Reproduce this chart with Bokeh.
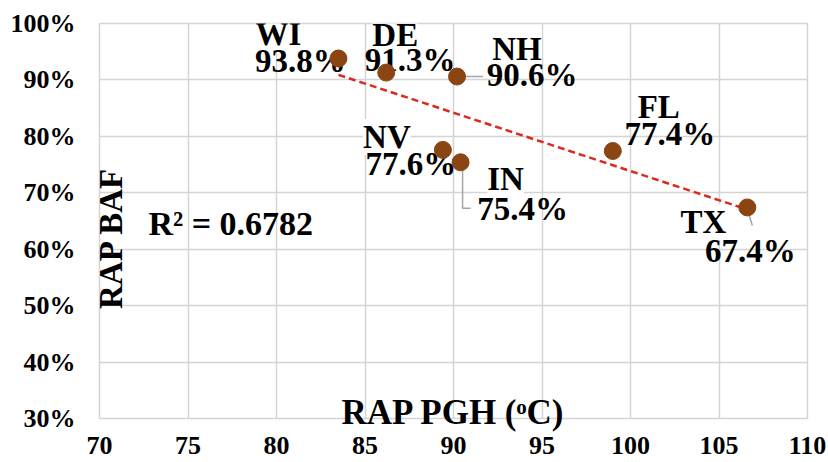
import numpy as np
from bokeh.plotting import figure
from bokeh.models import (ColumnDataSource, LabelSet, Label, Range1d, FixedTicker,
                          PrintfTickFormatter)
from bokeh.embed import file_html
from bokeh.resources import INLINE

# ---------------- data ----------------
states = ["WI", "DE", "NH", "NV", "IN", "FL", "TX"]
rap_pgh = [83.5, 86.2, 90.2, 89.4, 90.4, 99.0, 106.6]     # RAP PGH (oC)
rap_baf = [93.8, 91.3, 90.6, 77.6, 75.4, 77.4, 67.4]      # RAP BAF (%)
x_ticks = [70, 75, 80, 85, 90, 95, 100, 105, 110]
y_ticks = [30, 40, 50, 60, 70, 80, 90, 100]
r2_text = "R² = 0.6782"
x_title = "RAP PGH (ᵒC)"
y_title = "RAP BAF"

# ---------------- layout (pixels) ----------------
W, H = 828, 462
L, R, T, B = 99, 21, 23, 44
FW, FH = W - L - R, H - T - B
X0, X1, Y0, Y1 = 70, 110, 30, 100
SX = FW / (X1 - X0)
SY = FH / (Y1 - Y0)

def dx(px):
    return X0 + (px - L) / SX

def dy(py):
    return Y0 + (T + FH - py) / SY

FONT = "Liberation Serif"
BROWN = "#8B4513"
GRID = "#D4D4D4"

# label offsets (screen px; y positive = up) for name and value lines
name_off = {"WI": (-60, 13), "DE": (9, 27), "NH": (60, 17), "NV": (-56, 2),
            "IN": (45, -28), "FL": (46, 33), "TX": (-44, -26)}
val_off = {"WI": (-38, -14), "DE": (24, 2), "NH": (75, -9), "NV": (-32, -25),
           "IN": (62, -58), "FL": (57, 6), "TX": (3, -55)}
# leader lines (screen px offsets from point; y positive = down)
leaders = {"NH": [(6, 0), (26, 0)],
           "IN": [(2, 8), (2, 46), (10, 46)],
           "TX": [(1, 5), (5, 18)]}

p = figure(width=W, height=H, frame_width=FW, frame_height=FH,
           x_range=Range1d(X0, X1), y_range=Range1d(Y0, Y1),
           min_border_left=L, min_border_right=R, min_border_top=T, min_border_bottom=B,
           toolbar_location=None, output_backend="svg")
p.background_fill_color = "white"
p.border_fill_color = "white"
p.outline_line_color = GRID
p.outline_line_width = 1.5

for ax in (p.xaxis[0], p.yaxis[0]):
    ax.axis_line_color = None
    ax.major_tick_line_color = None
    ax.minor_tick_line_color = None
    ax.major_tick_out = 0
    ax.major_tick_in = 0
    ax.major_label_text_font = FONT
    ax.major_label_text_font_style = "bold"
    ax.major_label_text_font_size = "26px"
    ax.major_label_text_color = "black"
p.xaxis.ticker = FixedTicker(ticks=x_ticks)
p.yaxis.ticker = FixedTicker(ticks=y_ticks)
p.yaxis.formatter = PrintfTickFormatter(format="%d%%")
p.xaxis.major_label_standoff = 18
p.yaxis.major_label_standoff = 24

# x title drawn by the axis, pulled up over the plot area
p.xaxis.axis_label = x_title
p.xaxis.axis_label_text_font = FONT
p.xaxis.axis_label_text_font_style = "bold"
p.xaxis.axis_label_text_font_size = "35px"
p.xaxis.axis_label_text_color = "black"
p.xaxis.axis_label_standoff = -64

p.xgrid.ticker = FixedTicker(ticks=x_ticks)
p.ygrid.ticker = FixedTicker(ticks=y_ticks)
for g in (p.xgrid[0], p.ygrid[0]):
    g.grid_line_color = GRID
    g.grid_line_width = 1.5

# data label sources
src = ColumnDataSource(dict(
    x=rap_pgh, y=rap_baf, name=states,
    val=[f"{v:.1f}%" for v in rap_baf],
    nx=[name_off[s][0] for s in states], ny=[name_off[s][1] for s in states],
    vx=[val_off[s][0] for s in states], vy=[val_off[s][1] for s in states],
))

names = LabelSet(x="x", y="y", text="name", x_offset="nx", y_offset="ny", source=src,
                 text_font=FONT, text_font_style="bold", text_font_size="33px",
                 text_color="black", text_align="center", text_baseline="alphabetic",
                 background_fill_color="white", level="underlay")
vals = LabelSet(x="x", y="y", text="val", x_offset="vx", y_offset="vy", source=src,
                text_font=FONT, text_font_style="bold", text_font_size="33px",
                text_color="black", text_align="center", text_baseline="alphabetic",
                level="underlay")
p.add_layout(names)
p.add_layout(vals)

# leader lines
lx, ly = [], []
for s, pts in leaders.items():
    i = states.index(s)
    lx.append([rap_pgh[i] + ox / SX for ox, oy in pts])
    ly.append([rap_baf[i] - oy / SY for ox, oy in pts])
p.multi_line(lx, ly, line_color="#A6A6A6", line_width=1.5)

# trendline
m, c = np.polyfit(rap_pgh, rap_baf, 1)
tx = [min(rap_pgh), max(rap_pgh)]
p.line(tx, [m * v + c for v in tx], line_color="#DC2A1E", line_width=2.5, line_dash="7 4")

# points
p.scatter(rap_pgh, rap_baf, size=17, fill_color=BROWN, line_color=BROWN)

# R^2 text
p.add_layout(Label(x=dx(148), y=dy(223), text=r2_text, text_font=FONT,
                   text_font_style="bold", text_font_size="34px", text_color="black",
                   text_align="left", text_baseline="alphabetic"))

# y title
p.add_layout(Label(x=dx(110), y=dy(237.5), text=y_title, angle=np.pi / 2,
                   text_font=FONT, text_font_style="bold", text_font_size="33px",
                   text_color="black", text_align="center", text_baseline="alphabetic"))

open("out.html", "w").write(file_html(p, INLINE))
